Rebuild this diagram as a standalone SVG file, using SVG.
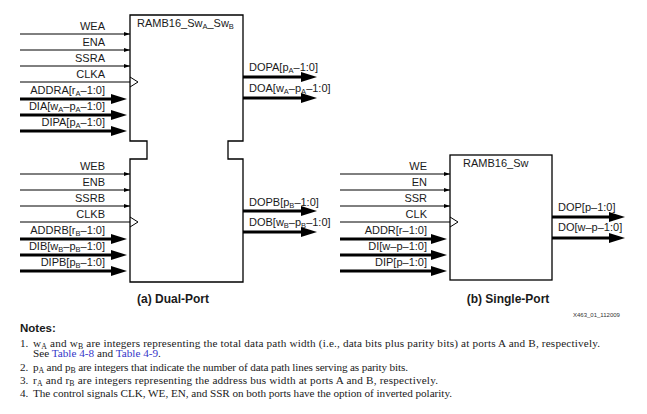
<svg xmlns="http://www.w3.org/2000/svg" width="647" height="414" viewBox="0 0 647 414">
<style>
.lbl{font-family:"Liberation Sans",Arial,sans-serif;font-size:11px;fill:#1a1a1a}
.r{text-anchor:end}
.sub{font-size:7.5px}
.box{fill:#fff;stroke:#000;stroke-width:1.3}
.thin{stroke:#000;stroke-width:1;fill:none}
.thick{stroke:#000;stroke-width:3;fill:none}
.clk{stroke:#000;stroke-width:1;fill:none}
.cap{font-family:"Liberation Sans",Arial,sans-serif;font-size:12px;font-weight:bold;fill:#1a1a1a;text-anchor:middle}
.note{font-family:"Liberation Serif","Times New Roman",serif;font-size:11.2px;fill:#1a1a1a}
.nsub{font-size:7.8px}
.link{fill:#3535c8}
</style>
<defs>
<marker id="ah" markerUnits="userSpaceOnUse" markerWidth="6" markerHeight="4" refX="6" refY="2" orient="auto"><path d="M0,0 L6,2 L0,4 Z" fill="#000"/></marker>
<marker id="AH" markerUnits="userSpaceOnUse" markerWidth="16" markerHeight="10" refX="1" refY="5" orient="auto"><path d="M0,0 L16,5 L0,10 Z" fill="#000"/></marker>
</defs>

<g id="dual-port">
<path class="box" d="M130,15 H243 V141 H228 V159 H243 V282 H130 V159 H147 V141 H130 Z"/>
<text class="lbl" x="137" y="27" font-size="10.5">RAMB16_Sw<tspan class="sub" dy="2">A</tspan><tspan dy="-2">_Sw</tspan><tspan class="sub" dy="2">B</tspan></text>
<polyline class="clk" points="130,77 138,82 130,87"/>
<polyline class="clk" points="130,217 138,222 130,227"/>
</g>

<g id="single-port">
<rect class="box" x="450" y="155" width="102" height="125"/>
<text class="lbl" x="463" y="167" font-size="10.5">RAMB16_Sw</text>
<polyline class="clk" points="450,217 458,222 450,227"/>
</g>

<g id="connectors">
<line class="thin" x1="20" y1="34" x2="130" y2="34" marker-end="url(#ah)"/>
<line class="thin" x1="20" y1="50" x2="130" y2="50" marker-end="url(#ah)"/>
<line class="thin" x1="20" y1="66" x2="130" y2="66" marker-end="url(#ah)"/>
<line class="thin" x1="20" y1="82" x2="130" y2="82"/>
<line class="thick" x1="20" y1="99" x2="112" y2="99" marker-end="url(#AH)"/>
<line class="thick" x1="20" y1="115" x2="112" y2="115" marker-end="url(#AH)"/>
<line class="thick" x1="20" y1="131" x2="112" y2="131" marker-end="url(#AH)"/>
<line class="thin" x1="20" y1="174" x2="130" y2="174" marker-end="url(#ah)"/>
<line class="thin" x1="20" y1="190" x2="130" y2="190" marker-end="url(#ah)"/>
<line class="thin" x1="20" y1="206" x2="130" y2="206" marker-end="url(#ah)"/>
<line class="thin" x1="20" y1="222" x2="130" y2="222"/>
<line class="thick" x1="20" y1="239" x2="112" y2="239" marker-end="url(#AH)"/>
<line class="thick" x1="20" y1="255" x2="112" y2="255" marker-end="url(#AH)"/>
<line class="thick" x1="20" y1="271" x2="112" y2="271" marker-end="url(#AH)"/>
<line class="thick" x1="243" y1="77" x2="302" y2="77" marker-end="url(#AH)"/>
<line class="thick" x1="243" y1="98" x2="302" y2="98" marker-end="url(#AH)"/>
<line class="thick" x1="243" y1="211" x2="302" y2="211" marker-end="url(#AH)"/>
<line class="thick" x1="243" y1="232" x2="302" y2="232" marker-end="url(#AH)"/>
<line class="thin" x1="340" y1="174" x2="450" y2="174" marker-end="url(#ah)"/>
<line class="thin" x1="340" y1="190" x2="450" y2="190" marker-end="url(#ah)"/>
<line class="thin" x1="340" y1="206" x2="450" y2="206" marker-end="url(#ah)"/>
<line class="thin" x1="340" y1="222" x2="450" y2="222"/>
<line class="thick" x1="340" y1="239" x2="432" y2="239" marker-end="url(#AH)"/>
<line class="thick" x1="340" y1="255" x2="432" y2="255" marker-end="url(#AH)"/>
<line class="thick" x1="340" y1="271" x2="432" y2="271" marker-end="url(#AH)"/>
<line class="thick" x1="552" y1="217" x2="610" y2="217" marker-end="url(#AH)"/>
<line class="thick" x1="552" y1="238" x2="610" y2="238" marker-end="url(#AH)"/>
</g>

<g id="labels">
<text class="lbl r" x="105" y="30">WEA</text>
<text class="lbl r" x="105" y="46">ENA</text>
<text class="lbl r" x="105" y="62">SSRA</text>
<text class="lbl r" x="105" y="78">CLKA</text>
<text class="lbl r" x="105" y="94">ADDRA[r<tspan class="sub" dy="2">A</tspan><tspan dy="-2">–1:0]</tspan></text>
<text class="lbl r" x="105" y="110">DIA[w<tspan class="sub" dy="2">A</tspan><tspan dy="-2">–p</tspan><tspan class="sub" dy="2">A</tspan><tspan dy="-2">–1:0]</tspan></text>
<text class="lbl r" x="105" y="126">DIPA[p<tspan class="sub" dy="2">A</tspan><tspan dy="-2">–1:0]</tspan></text>

<text class="lbl r" x="105" y="170">WEB</text>
<text class="lbl r" x="105" y="186">ENB</text>
<text class="lbl r" x="105" y="202">SSRB</text>
<text class="lbl r" x="105" y="218">CLKB</text>
<text class="lbl r" x="105" y="234">ADDRB[r<tspan class="sub" dy="2">B</tspan><tspan dy="-2">–1:0]</tspan></text>
<text class="lbl r" x="105" y="250">DIB[w<tspan class="sub" dy="2">B</tspan><tspan dy="-2">–p</tspan><tspan class="sub" dy="2">B</tspan><tspan dy="-2">–1:0]</tspan></text>
<text class="lbl r" x="105" y="266">DIPB[p<tspan class="sub" dy="2">B</tspan><tspan dy="-2">–1:0]</tspan></text>

<text class="lbl" x="249" y="71">DOPA[p<tspan class="sub" dy="2">A</tspan><tspan dy="-2">–1:0]</tspan></text>
<text class="lbl" x="249" y="92">DOA[w<tspan class="sub" dy="2">A</tspan><tspan dy="-2">–p</tspan><tspan class="sub" dy="2">A</tspan><tspan dy="-2">–1:0]</tspan></text>
<text class="lbl" x="249" y="206">DOPB[p<tspan class="sub" dy="2">B</tspan><tspan dy="-2">–1:0]</tspan></text>
<text class="lbl" x="249" y="226">DOB[w<tspan class="sub" dy="2">B</tspan><tspan dy="-2">–p</tspan><tspan class="sub" dy="2">B</tspan><tspan dy="-2">–1:0]</tspan></text>

<text class="lbl r" x="427" y="170">WE</text>
<text class="lbl r" x="427" y="186">EN</text>
<text class="lbl r" x="427" y="202">SSR</text>
<text class="lbl r" x="427" y="218">CLK</text>
<text class="lbl r" x="427" y="234">ADDR[r–1:0]</text>
<text class="lbl r" x="427" y="250">DI[w–p–1:0]</text>
<text class="lbl r" x="427" y="266">DIP[p–1:0]</text>

<text class="lbl" x="558" y="211">DOP[p–1:0]</text>
<text class="lbl" x="558" y="231">DO[w–p–1:0]</text>

<text class="cap" x="173" y="303">(a) Dual-Port</text>
<text class="cap" x="508" y="303">(b) Single-Port</text>
<text x="573" y="317" font-family="Liberation Sans, Arial, sans-serif" font-size="6" fill="#333">X463_01_112009</text>
</g>

<g id="notes">
<text x="20" y="332" font-family="Liberation Sans, Arial, sans-serif" font-size="11.5" font-weight="bold" fill="#1a1a1a">Notes:</text>
<text class="note" x="20" y="347">1.</text>
<text class="note" x="33" y="347" textLength="567" lengthAdjust="spacing">w<tspan class="nsub" dy="1.5">A</tspan><tspan dy="-1.5"> and w</tspan><tspan class="nsub" dy="1.5">B</tspan><tspan dy="-1.5"> are integers representing the total data path width (i.e., data bits plus parity bits) at ports A and B, respectively.</tspan></text>
<text class="note" x="33" y="357">See <tspan class="link">Table 4-8</tspan> and <tspan class="link">Table 4-9</tspan>.</text>
<text class="note" x="20" y="371">2.</text>
<text class="note" x="33" y="371" textLength="375" lengthAdjust="spacing">p<tspan class="nsub" dy="1.5">A</tspan><tspan dy="-1.5"> and p</tspan><tspan class="nsub" dy="1.5">B</tspan><tspan dy="-1.5"> are integers that indicate the number of data path lines serving as parity bits.</tspan></text>
<text class="note" x="20" y="384">3.</text>
<text class="note" x="33" y="384" textLength="405" lengthAdjust="spacing">r<tspan class="nsub" dy="1.5">A</tspan><tspan dy="-1.5"> and r</tspan><tspan class="nsub" dy="1.5">B</tspan><tspan dy="-1.5"> are integers representing the address bus width at ports A and B, respectively.</tspan></text>
<text class="note" x="20" y="397">4.</text>
<text class="note" x="33" y="397" textLength="419" lengthAdjust="spacing">The control signals CLK, WE, EN, and SSR on both ports have the option of inverted polarity.</text>
</g>
</svg>
